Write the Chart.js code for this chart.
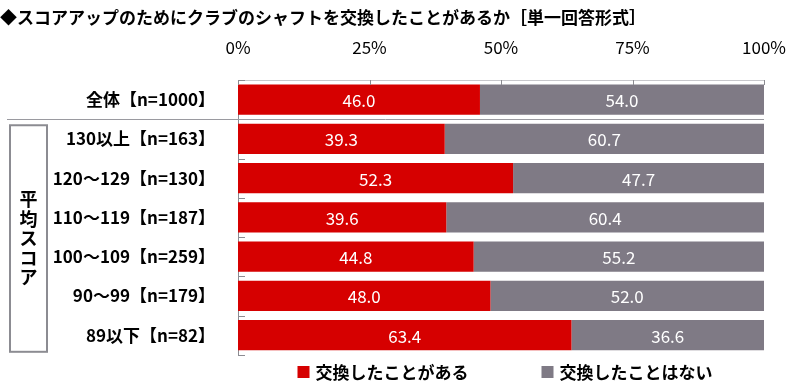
<!DOCTYPE html>
<html>
<head>
<meta charset="utf-8">
<script src="https://cdn.jsdelivr.net/npm/chart.js@4.4.0/dist/chart.umd.min.js"></script>
<style>
  html, body { margin: 0; padding: 0; background: #fff; }
  #wrap { width: 800px; height: 388px; position: relative; }
</style>
</head>
<body>
<div id="wrap"><canvas id="chart"></canvas></div>
<script>
// data
const categories = ['全体【n=1000】', '130以上【n=163】', '120～129【n=130】', '110～119【n=187】',
                    '100～109【n=259】', '90～99【n=179】', '89以下【n=82】'];
const yesValues = [46.0, 39.3, 52.3, 39.6, 44.8, 48.0, 63.4];
const noValues  = [54.0, 60.7, 47.7, 60.4, 55.2, 52.0, 36.6];
const seriesNames = ['交換したことがある', '交換したことはない'];
const xTicks = [0, 25, 50, 75, 100];
const groupLabel = '平均スコア';
const titleText = '◆スコアアップのためにクラブのシャフトを交換したことがあるか［単一回答形式］';

const FONT = '"Noto Sans CJK JP", "Noto Sans", sans-serif';
const RED = '#d60000';
const GRAY = '#7f7a85';
const LINE = '#8c8c92';

// labels inside bars, separator, group box, inward ticks and legend
const decor = {
  id: 'decor',
  afterDatasetsDraw(chart) {
    const ctx = chart.ctx;
    const x = chart.scales.x, y = chart.scales.y;
    const area = chart.chartArea;
    ctx.save();

    // value labels
    ctx.font = '17px ' + FONT;
    ctx.fillStyle = '#fff';
    ctx.textAlign = 'center';
    ctx.textBaseline = 'middle';
    chart.data.datasets.forEach((ds, di) => {
      chart.getDatasetMeta(di).data.forEach((bar, i) => {
        const cx = (bar.x + bar.base) / 2;
        ctx.fillText(ds.data[i].toFixed(1), cx, bar.y + 1);
      });
    });

    // row boundaries
    const rowH = y.getPixelForValue(1) - y.getPixelForValue(0);
    const bound = i => y.getPixelForValue(i) - rowH / 2;

    // inward ticks on the category axis
    ctx.strokeStyle = LINE;
    ctx.lineWidth = 1;
    for (let i = 0; i <= categories.length; i++) {
      const py = Math.round(bound(i)) + 0.5;
      ctx.beginPath();
      ctx.moveTo(area.left, py);
      ctx.lineTo(area.left + 7, py);
      ctx.stroke();
    }
    // inward ticks on the value axis
    xTicks.forEach(v => {
      const px = Math.round(x.getPixelForValue(v)) + 0.5;
      ctx.beginPath();
      ctx.moveTo(px, area.top);
      ctx.lineTo(px, area.top + 5);
      ctx.stroke();
    });

    // separator under the total row
    const sepY = Math.round(bound(1)) + 0.5;
    ctx.strokeStyle = '#9a9aa0';
    ctx.beginPath();
    ctx.moveTo(7, sepY);
    ctx.lineTo(area.right, sepY);
    ctx.stroke();

    // group box with vertical text
    const boxTop = bound(1) + 6, boxBot = bound(categories.length) - 3;
    ctx.strokeStyle = LINE;
    ctx.lineWidth = 2;
    ctx.strokeRect(10, boxTop, 37, boxBot - boxTop);
    ctx.fillStyle = '#000';
    ctx.font = 'bold 18px ' + FONT;
    const chars = Array.from(groupLabel);
    const step = 19.5;
    const midY = (boxTop + boxBot) / 2;
    chars.forEach((c, i) => {
      ctx.fillText(c, 28.5, midY + (i - (chars.length - 1) / 2) * step);
    });

    // legend
    ctx.font = 'bold 17px ' + FONT;
    ctx.textAlign = 'left';
    const colors = [RED, GRAY];
    const gap = 73, box = 12, pad = 6;
    const widths = seriesNames.map(s => box + pad + ctx.measureText(s).width);
    const total = widths[0] + gap + widths[1];
    let lx = (area.left + area.right) / 2 - total / 2 + 4;
    const ly = 373;
    seriesNames.forEach((s, i) => {
      ctx.fillStyle = colors[i];
      ctx.fillRect(lx, ly - box / 2 - 1, box, box);
      ctx.fillStyle = '#000';
      ctx.fillText(s, lx + box + pad, ly);
      lx += widths[i] + gap;
    });

    ctx.restore();
  }
};

new Chart(document.getElementById('chart'), {
  type: 'bar',
  data: {
    labels: categories,
    datasets: [
      { label: seriesNames[0], data: yesValues, backgroundColor: RED },
      { label: seriesNames[1], data: noValues, backgroundColor: GRAY }
    ]
  },
  options: {
    indexAxis: 'y',
    responsive: true,
    maintainAspectRatio: false,
    animation: false,
    layout: { padding: { left: 0, right: 36, top: 0, bottom: 32 } },
    datasets: { bar: { barPercentage: 0.77, categoryPercentage: 1 } },
    plugins: {
      legend: { display: false },
      tooltip: { enabled: false },
      title: {
        display: true,
        text: titleText,
        align: 'start',
        color: '#000',
        font: { size: 17, weight: 'bold', family: FONT, lineHeight: 1.2 },
        padding: { top: 7, bottom: 0 }
      }
    },
    scales: {
      x: {
        position: 'top',
        stacked: true,
        min: 0,
        max: 100,
        afterBuildTicks: s => { s.ticks = xTicks.map(v => ({ value: v })); },
        afterFit: s => {
          s.height = 80 - 27.4;
          s.paddingLeft = 0;
          s.paddingRight = 0;
        },
        ticks: {
          callback: v => v + '%',
          color: '#000',
          padding: 22,
          maxRotation: 0,
          font: { size: 17, family: FONT }
        },
        grid: { display: false, drawTicks: false },
        border: { display: true, color: '#c8c8cc' }
      },
      y: {
        stacked: true,
        afterFit: s => { s.width = 238; },
        ticks: {
          color: '#000',
          padding: 23,
          font: { size: 17, weight: 'bold', family: FONT }
        },
        grid: { display: false, drawTicks: false },
        border: { display: true, color: LINE }
      }
    }
  },
  plugins: [decor]
});
</script>
</body>
</html>
